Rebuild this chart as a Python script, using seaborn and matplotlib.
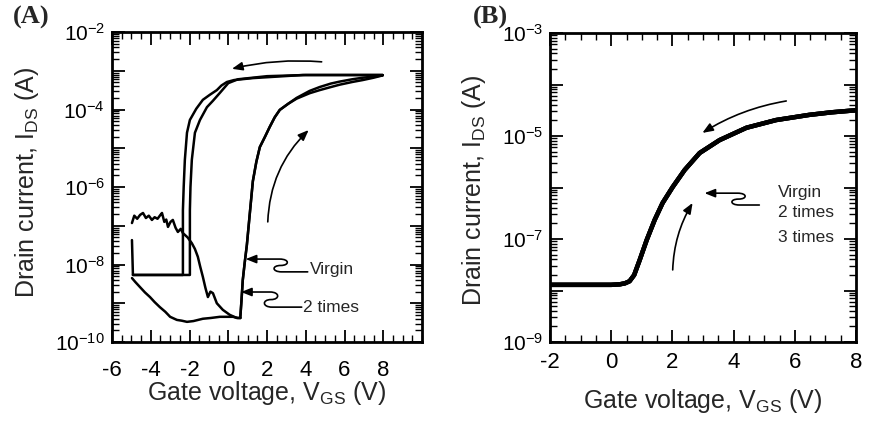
import numpy as np
import pandas as pd
import seaborn as sns
import matplotlib.pyplot as plt
from matplotlib import ticker
from matplotlib.path import Path
from matplotlib.patches import FancyArrowPatch
from matplotlib.transforms import IdentityTransform

# ---- panel A: transfer curves, gate voltage (V) and log10 of drain current (A)
virgin_fwd_v = [-4.97, -4.85, -4.7, -4.55, -4.4, -4.25, -4.1, -3.94, -3.8, -3.65, -3.5, -3.42,
                -3.3, -3.2, -3.11, -2.98, -2.86, -2.72, -2.6, -2.45, -2.34, -2.1, -1.88, -1.72,
                -1.57, -1.45, -1.31, -1.18, -1.05, -0.92, -0.79, -0.59, -0.28, 0.08, 0.44, 0.62]
virgin_fwd_logi = [-6.93, -6.74, -6.82, -6.72, -6.67, -6.80, -6.74, -6.85, -6.78, -6.82, -6.72, -6.67,
                   -6.90, -6.84, -7.03, -6.90, -6.85, -7.05, -7.16, -7.08, -7.19, -7.30, -7.45, -7.60,
                   -7.80, -8.05, -8.32, -8.60, -8.84, -8.70, -8.74, -9.00, -9.17, -9.30, -9.38, -9.38]

twice_fwd_v = [-4.97, -4.8, -4.56, -4.3, -4.04, -3.8, -3.53, -3.25, -3.0, -2.65, -2.4, -2.13,
               -1.8, -1.31, -0.9, -0.43, 0.0, 0.24, 0.5, 0.62]
twice_fwd_logi = [-8.35, -8.45, -8.58, -8.72, -8.84, -8.97, -9.10, -9.22, -9.35, -9.43, -9.45, -9.48,
                  -9.46, -9.40, -9.38, -9.35, -9.35, -9.35, -9.38, -9.38]

on_v = [0.62, 0.68, 0.75, 0.85, 0.96, 1.1, 1.27, 1.45, 1.63, 1.9, 2.14, 2.4,
        2.66, 3.1, 3.53, 4.2, 4.72, 5.3, 5.75, 6.4, 6.94, 7.5, 7.97]
virgin_on_logi = [-9.38, -8.95, -8.40, -7.95, -7.50, -6.75, -5.85, -5.35, -4.97, -4.70, -4.45, -4.20,
                  -4.01, -3.85, -3.70, -3.52, -3.42, -3.33, -3.28, -3.22, -3.18, -3.15, -3.12]
twice_on_logi = [-9.38, -8.95, -8.40, -7.95, -7.50, -6.75, -5.85, -5.35, -4.97, -4.70, -4.45, -4.20,
                 -4.01, -3.85, -3.72, -3.58, -3.50, -3.42, -3.36, -3.29, -3.24, -3.18, -3.12]

virgin_rev_v = [7.97, 6.0, 4.0, 2.0, 0.5, 0.0, -0.43, -0.8, -1.1, -1.46, -1.72, -1.88,
                -1.95, -1.98, -1.98, -2.34, -3.5, -4.92, -4.97]
virgin_rev_logi = [-3.11, -3.11, -3.11, -3.14, -3.22, -3.32, -3.57, -3.78, -3.94, -4.27, -4.60, -5.30,
                   -6.00, -6.60, -8.27, -8.27, -8.27, -8.27, -7.37]

twice_rev_v = [7.97, 6.0, 3.85, 1.27, 0.3, -0.07, -0.35, -0.59, -0.95, -1.31, -1.65, -1.98,
               -2.13, -2.24, -2.30, -2.34, -2.34, -3.5, -4.92]
twice_rev_logi = [-3.11, -3.11, -3.11, -3.19, -3.24, -3.29, -3.38, -3.50, -3.62, -3.75, -3.98, -4.27,
                  -4.60, -5.30, -6.00, -6.60, -8.27, -8.27, -8.27]

# ---- panel B: the three sweeps lie on top of each other
b_v = [-2.0, -1.0, 0.0, 0.28, 0.45, 0.6, 0.75, 0.93, 1.16, 1.42, 1.68, 2.01,
       2.40, 2.89, 3.54, 4.42, 5.39, 6.47, 7.2, 8.0]
b_logi = [-7.89, -7.89, -7.89, -7.88, -7.86, -7.82, -7.70, -7.41, -7.02, -6.63, -6.30, -5.99,
          -5.66, -5.33, -5.08, -4.84, -4.69, -4.59, -4.54, -4.50]
b_sweeps = ["Virgin", "2 times", "3 times"]

a_xticks = [-6, -4, -2, 0, 2, 4, 6, 8]
b_xticks = [-2, 0, 2, 4, 6, 8]


def segments(parts):
    frames = []
    for name, v, logi in parts:
        frames.append(pd.DataFrame({"V": v, "I": 10.0 ** np.asarray(logi), "seg": name}))
    return pd.concat(frames, ignore_index=True)


df_a = segments([
    ("virgin_fwd", virgin_fwd_v, virgin_fwd_logi),
    ("virgin_on", on_v, virgin_on_logi),
    ("virgin_rev", virgin_rev_v, virgin_rev_logi),
    ("twice_fwd", twice_fwd_v, twice_fwd_logi),
    ("twice_on", on_v, twice_on_logi),
    ("twice_rev", twice_rev_v, twice_rev_logi),
])
df_b = segments([(s, b_v, b_logi) for s in b_sweeps])

sns.set_style("ticks")
plt.rcParams["font.family"] = ["Liberation Sans", "DejaVu Sans"]
plt.rcParams["axes.unicode_minus"] = False

fig = plt.figure(figsize=(8.74, 4.24), dpi=100)
ax_a = fig.add_axes([112 / 874, 82 / 424, 310 / 874, 310 / 424])
ax_b = fig.add_axes([550 / 874, 82 / 424, 306 / 874, 309 / 424])

sns.lineplot(data=df_a, x="V", y="I", units="seg", estimator=None, sort=False,
             color="black", lw=1.8, ax=ax_a)
sns.lineplot(data=df_b, x="V", y="I", units="seg", estimator=None, sort=False,
             color="black", lw=3.2, ax=ax_b)


def style(ax, xlim, xticks, ylo, yhi, parity, xpad):
    ax.set_yscale("log")
    ax.set_xlim(*xlim)
    ax.set_ylim(10.0 ** ylo, 10.0 ** yhi)
    ax.xaxis.set_major_locator(ticker.FixedLocator(xticks))
    ax.xaxis.set_minor_locator(ticker.MultipleLocator(0.5))
    ax.yaxis.set_major_locator(ticker.LogLocator(base=10, numticks=30))
    ax.yaxis.set_minor_locator(ticker.LogLocator(base=10, subs=np.arange(2, 10), numticks=30))

    def fmt(v, pos):
        e = int(round(np.log10(v)))
        return r"$\mathdefault{10^{%d}}$" % e if e % 2 == parity else ""

    ax.yaxis.set_major_formatter(ticker.FuncFormatter(fmt))
    ax.yaxis.set_minor_formatter(ticker.NullFormatter())
    ax.tick_params(which="both", direction="in", top=True, right=True, colors="black")
    ax.tick_params(which="major", length=9, width=1.3)
    ax.tick_params(which="minor", length=5, width=1.0)
    ax.tick_params(axis="x", labelsize=16, pad=xpad)
    ax.tick_params(axis="y", labelsize=15, pad=5)
    for sp in ax.spines.values():
        sp.set_linewidth(2)
        sp.set_color("black")
    ax.set_xlabel(r"Gate voltage, V$_{\mathregular{GS}}$ (V)", fontsize=18)
    ax.set_ylabel(r"Drain current, I$_{\mathregular{DS}}$ (A)", fontsize=18)
    ax.xaxis.label.set_va("center")
    ax.yaxis.label.set_va("center")


style(ax_a, (-6, 10), a_xticks, -10, -2, 0, 13)
style(ax_b, (-2, 8), b_xticks, -9, -3, 1, 7)
ax_a.xaxis.set_label_coords(0.5, -0.165)
ax_a.yaxis.set_label_coords(-0.274, 0.516)
ax_b.xaxis.set_label_coords(0.5, -0.19)
ax_b.yaxis.set_label_coords(-0.248, 0.49)

fig.text(13 / 874, 1 - 6 / 424, "(A)", ha="left", va="top", family="Liberation Serif",
         weight="bold", size=19)
fig.text(473 / 874, 1 - 6 / 424, "(B)", ha="left", va="top", family="Liberation Serif",
         weight="bold", size=19)

head_style = "-|>,head_length=0.7,head_width=0.28"


def arc_arrow(ax, tail, head, rad):
    ax.annotate("", xy=(head[0], 10.0 ** head[1]), xytext=(tail[0], 10.0 ** tail[1]),
                arrowprops=dict(arrowstyle=head_style, connectionstyle="arc3,rad=%g" % rad,
                                color="black", lw=1.2, mutation_scale=9, shrinkA=0, shrinkB=0))


def squiggle(ax, tail, head, s_off):
    hx, hy = ax.transData.transform((head[0], 10.0 ** head[1]))
    tx, ty = ax.transData.transform((tail[0], 10.0 ** tail[1]))
    sx = hx + s_off
    h = hy - ty
    verts = [(tx, ty), (sx + 1, ty),
             (sx - 9, ty), (sx - 9, ty + 0.5 * h), (sx, ty + 0.5 * h),
             (sx + 9, ty + 0.5 * h), (sx + 9, hy), (sx - 1, hy),
             (hx, hy)]
    codes = [Path.MOVETO, Path.LINETO] + [Path.CURVE4] * 6 + [Path.LINETO]
    ax.add_patch(FancyArrowPatch(path=Path(verts, codes), arrowstyle=head_style,
                                 mutation_scale=9, lw=1.2, color="black",
                                 transform=IdentityTransform()))


# panel A annotations
arc_arrow(ax_a, (4.82, -2.77), (0.19, -2.95), 0.08)
arc_arrow(ax_a, (2.04, -6.90), (4.15, -4.53), -0.2)
ax_a.text(4.21, 10.0 ** -8.14, "Virgin", fontsize=12.5, ha="left", va="center")
ax_a.text(3.85, 10.0 ** -9.10, "2 times", fontsize=12.5, ha="left", va="center")
squiggle(ax_a, (4.10, -8.19), (0.90, -7.86), 35)
squiggle(ax_a, (3.79, -9.10), (0.66, -8.71), 30)

# panel B annotations
arc_arrow(ax_b, (5.72, -4.32), (2.98, -4.94), 0.1)
arc_arrow(ax_b, (2.01, -7.60), (2.66, -6.30), -0.13)
for txt, ly in zip(b_sweeps, [-6.09, -6.48, -6.98]):
    ax_b.text(5.46, 10.0 ** ly, txt, fontsize=12.5, ha="left", va="center")
squiggle(ax_b, (4.84, -6.34), (3.05, -6.11), 34)

fig.savefig("out.png", dpi=100)
